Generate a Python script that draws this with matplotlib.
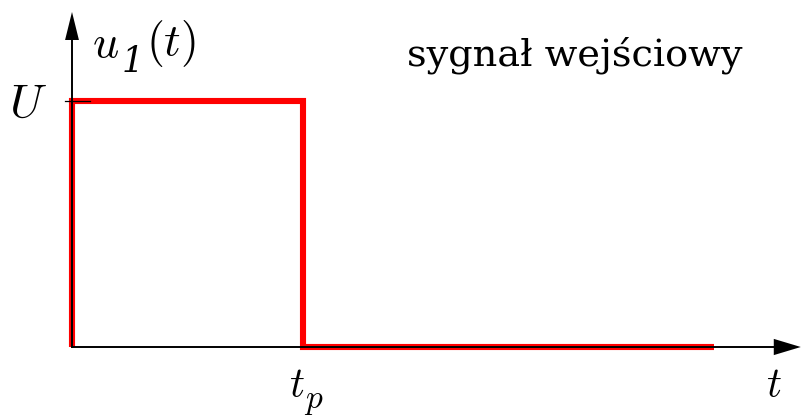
import matplotlib
matplotlib.use("Agg")
import matplotlib.pyplot as plt
from matplotlib.patches import Polygon

plt.rcParams['mathtext.fontset'] = 'cm'

# Rectangular input pulse: amplitude U for 0 <= t < tp, then zero
t_pts = [0.0, 0.0, 1.0, 1.0, 2.78]
u_pts = [0.0, 1.0, 1.0, 0.0, 0.0]
U_level = 1.0
tp = 1.0

W, H = 801, 416
X0, SX = 72.0, 231.0    # pixel of t=0, pixels per unit time
Y0, SY = 347.0, 246.0   # pixel of u=0, pixels per unit amplitude

fig = plt.figure(figsize=(W / 100, H / 100), dpi=100)
ax = fig.add_axes([0, 0, 1, 1])
ax.set_xlim(-X0 / SX, (W - X0) / SX)
ax.set_ylim((Y0 - H) / SY, Y0 / SY)
ax.axis('off')


def at(px, py):
    """Figure-pixel position (from top-left) -> data coordinates for labels."""
    return (px - X0) / SX, (Y0 - py) / SY


# Signal
ax.plot(t_pts, u_pts, color='#ff0000', lw=4.4, solid_joinstyle='miter',
        solid_capstyle='butt', zorder=2)

# Axes with arrow heads
x_end, y_end = 3.155, 1.362
ax.plot([0, x_end - 0.05], [0, 0], color='black', lw=1.4, zorder=3)
ax.plot([0, 0], [0, y_end - 0.05], color='black', lw=1.4, zorder=3)
hx, hw = 0.117, 0.033
ax.add_patch(Polygon([[x_end, 0], [x_end - hx, hw], [x_end - hx, -hw]],
                     closed=True, color='black', zorder=4, lw=0))
vy, vw = 0.114, 0.030
ax.add_patch(Polygon([[0, y_end], [-vw, y_end - vy], [vw, y_end - vy]],
                     closed=True, color='black', zorder=4, lw=0))

# Tick at U
ax.plot([-0.03, 0.078], [U_level, U_level], color='black', lw=0.9, zorder=3)

# Labels
kw = dict(ha='left', va='baseline')
ax.text(*at(9, 117), r'$U$', fontsize=34, **kw)
ax.text(*at(92, 57), r'$u$', fontsize=33, **kw)
ax.text(*at(122, 72), '1', fontsize=25, family='DejaVu Serif',
        style='italic', **kw)
ax.text(*at(146, 55), r'$(t)$', fontsize=33, **kw)
ax.text(*at(289, 397), r'$t$', fontsize=30, **kw)
ax.text(*at(304, 408), r'$p$', fontsize=24, **kw)
ax.text(*at(766, 397), r'$t$', fontsize=30, **kw)
ax.text(*at(574.5, 65), 'sygnał wejściowy', fontsize=27.5,
        family='DejaVu Serif', ha='center', va='baseline')

fig.savefig('out.png', dpi=100)
